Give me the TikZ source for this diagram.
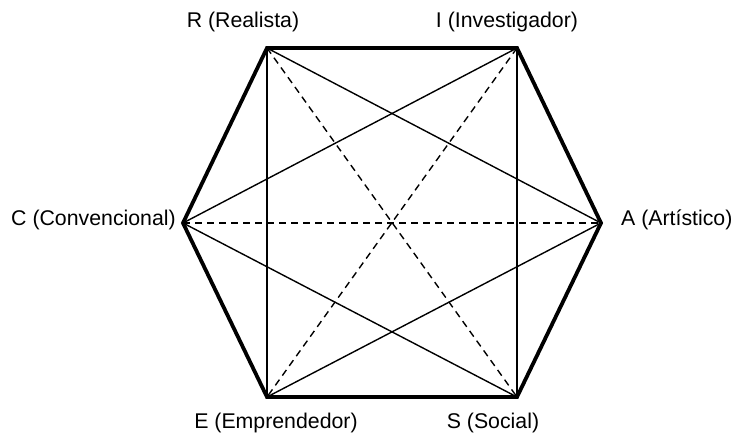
\documentclass[tikz,border=0pt]{standalone}
\usepackage{fontspec}
\setmainfont{Liberation Sans}
\begin{document}
\begin{tikzpicture}[x=1pt,y=-1pt,
  lbl/.style={inner sep=0pt,font=\fontsize{21.3}{25}\selectfont},
  hexedge/.style={line width=3.8pt,line join=miter},
  thinline/.style={line width=1.4pt},
  dashline/.style={line width=1.4pt,dash pattern=on 7pt off 5pt}]
\useasboundingbox (0,0) rectangle (732,433);
\coordinate (R) at (267,48);
\coordinate (I) at (517,48);
\coordinate (A) at (601,223);
\coordinate (S) at (517,397);
\coordinate (E) at (267,397);
\coordinate (C) at (183,223);
% thin solid
\draw[thinline] (R) -- (E);
\draw[thinline] (I) -- (S);
\draw[thinline] (R) -- (A);
\draw[thinline] (I) -- (C);
\draw[thinline] (C) -- (S);
\draw[thinline] (E) -- (A);
% dashed
\draw[dashline] (R) -- (S);
\draw[dashline] (I) -- (E);
\draw[dashline] (C) -- (A);
% hexagon
\draw[hexedge] (R) -- (I) -- (A) -- (S) -- (E) -- (C) -- cycle;
% labels
\node[lbl,anchor=base] (lR) at (243,28) {R (Realista)};
\node[lbl,anchor=base] (lI) at (507,28) {I (Investigador)};
\node[lbl,anchor=base east] (lC) at (176,226) {C (Convencional)};
\node[lbl,anchor=base west] (lA) at (621,226) {A (Artístico)};
\node[lbl,anchor=base] (lE) at (276,428) {E (Emprendedor)};
\node[lbl,anchor=base] (lS) at (493,428) {S (Social)};
\end{tikzpicture}
\end{document}
